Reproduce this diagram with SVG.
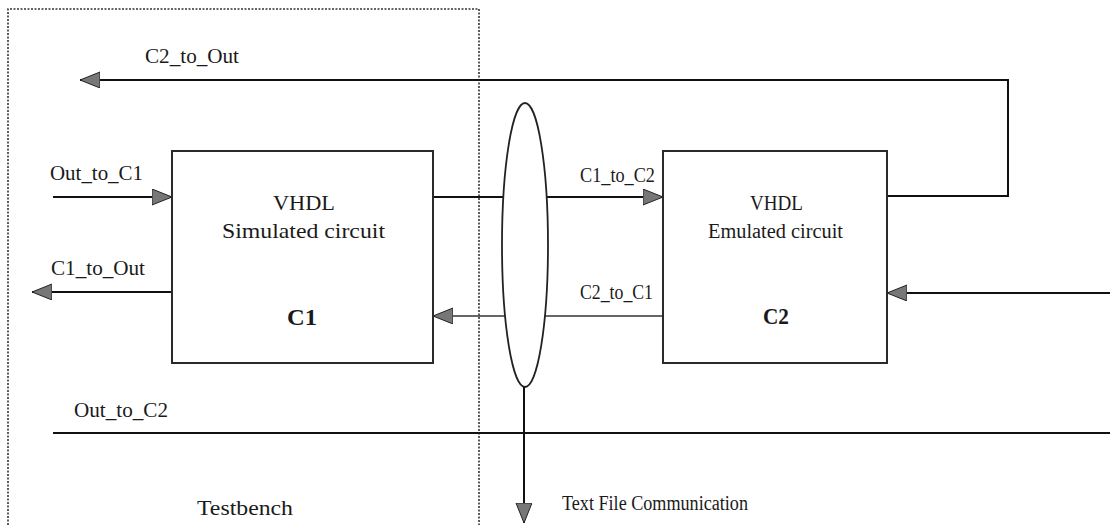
<svg xmlns="http://www.w3.org/2000/svg" width="1110" height="525" viewBox="0 0 1110 525">
<style>
text{fill:#1a1a1a}
.lbl{font-size:20px}
.big{font-size:22px}
.bold{font-size:24px;font-weight:bold}
.box{fill:#fff;stroke:#2a2a2a;stroke-width:2}
.wire{fill:none;stroke:#111;stroke-width:2}
.thin{fill:none;stroke:#333;stroke-width:1.4}
.tb{fill:none;stroke:#333;stroke-width:1.6;stroke-dasharray:2 1.5}
</style>
<defs>
<marker id="arr" markerUnits="userSpaceOnUse" markerWidth="22" markerHeight="18" refX="20" refY="8" orient="auto" viewBox="0 0 22 18">
<path d="M0,0 L20,8 L0,16 z" fill="#777" stroke="#222" stroke-width="1"/>
</marker>
</defs>
<g font-family="'Liberation Serif', 'Times New Roman', serif">
<g id="testbench">
<path class="tb" d="M8,525 V9 H479 V525"/>
<text class="big" x="197" y="515" textLength="96" lengthAdjust="spacingAndGlyphs">Testbench</text>
</g>
<g id="connectors">
<path class="wire" d="M887,196 H1008 V80 H80" marker-end="url(#arr)"/>
<path class="wire" d="M53,197 H172" marker-end="url(#arr)"/>
<path class="wire" d="M172,292 H32" marker-end="url(#arr)"/>
<path class="wire" d="M433,197 H663" marker-end="url(#arr)"/>
<path class="thin" d="M663,316 H433" marker-end="url(#arr)"/>
<path class="wire" d="M1110,293 H887" marker-end="url(#arr)"/>
<path class="wire" d="M53,433 H1110"/>
<text class="lbl" x="145" y="63" textLength="94" lengthAdjust="spacingAndGlyphs">C2_to_Out</text>
<text class="lbl" x="50" y="180" textLength="93" lengthAdjust="spacingAndGlyphs">Out_to_C1</text>
<text class="lbl" x="51" y="275" textLength="94" lengthAdjust="spacingAndGlyphs">C1_to_Out</text>
<text class="lbl" x="74" y="417" textLength="94" lengthAdjust="spacingAndGlyphs">Out_to_C2</text>
<text class="lbl" x="580" y="182" textLength="75" lengthAdjust="spacingAndGlyphs">C1_to_C2</text>
<text class="lbl" x="580" y="299" textLength="73" lengthAdjust="spacingAndGlyphs">C2_to_C1</text>
</g>
<g id="textfile">
<ellipse cx="525" cy="245" rx="23" ry="142" fill="#fff" stroke="#222" stroke-width="1.8"/>
<path class="wire" d="M524,387 V523" marker-end="url(#arr)"/>
<text class="lbl" x="562" y="510" textLength="186" lengthAdjust="spacingAndGlyphs">Text File Communication</text>
</g>
<g id="C1">
<rect class="box" x="172" y="151" width="261" height="212"/>
<text class="big" x="273" y="210" textLength="62" lengthAdjust="spacingAndGlyphs">VHDL</text>
<text class="big" x="222" y="238" textLength="163" lengthAdjust="spacingAndGlyphs">Simulated circuit</text>
<text class="bold" x="287" y="325" textLength="30" lengthAdjust="spacingAndGlyphs">C1</text>
</g>
<g id="C2">
<rect class="box" x="663" y="151" width="224" height="212"/>
<text class="lbl" x="750" y="210" textLength="53" lengthAdjust="spacingAndGlyphs">VHDL</text>
<text class="lbl" x="708" y="238" textLength="135" lengthAdjust="spacingAndGlyphs">Emulated circuit</text>
<text class="bold" x="763" y="324" textLength="26" lengthAdjust="spacingAndGlyphs">C2</text>
</g>
</g>
</svg>
